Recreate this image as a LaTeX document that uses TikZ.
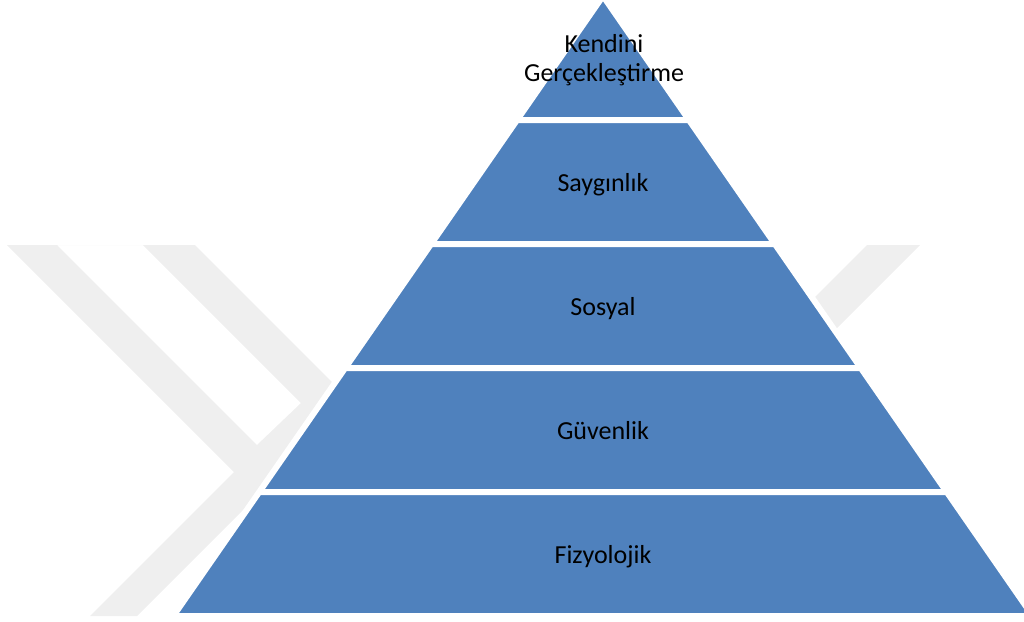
\documentclass[tikz,border=0pt]{standalone}
\usepackage{fontspec}
\setmainfont{Carlito}
\definecolor{pyr}{HTML}{4F81BD}
\definecolor{wm}{HTML}{EFEFEF}
\begin{document}
\begin{tikzpicture}[x=1pt,y=-1pt,
  layer/.style={fill=pyr,draw=white,line width=6pt,line join=round},
  lbl/.style={font=\fontsize{26}{29.3}\selectfont,text=black,align=center,inner sep=0pt},
  wmark/.style={fill=wm,draw=none}]
\useasboundingbox (0,0) rectangle (1024,621);
% watermark (faint Y logo)
\path[wmark,even odd rule]
  (7,245) -- (195,245) -- (351.5,401.5) -- (137,616) -- (90,616) -- (234,472) -- cycle
  (57,245) -- (143,245) -- (301,403) -- (257,445) -- cycle;
\path[wmark] (867,245) -- (920,245) -- (620,545) -- (567,545) -- cycle;
% pyramid layers
\path[layer] (603,-4) -- (688.94,120) -- (517.06,120) -- cycle;
\path[layer] (517.06,120) -- (688.94,120) -- (774.88,244) -- (431.12,244) -- cycle;
\path[layer] (431.12,244) -- (774.88,244) -- (860.82,368) -- (345.18,368) -- cycle;
\path[layer] (345.18,368) -- (860.82,368) -- (946.76,492) -- (259.24,492) -- cycle;
\path[layer] (259.24,492) -- (946.76,492) -- (1032.7,616) -- (173.3,616) -- cycle;
% labels
\node[lbl] (l1) at (604,60) {Kendini\\Gerçekleştirme};
\node[lbl,anchor=base] (l2) at (603,191) {Saygınlık};
\node[lbl,anchor=base] (l3) at (603,315) {Sosyal};
\node[lbl,anchor=base] (l4) at (603,439) {Güvenlik};
\node[lbl,anchor=base] (l5) at (603,563) {Fizyolojik};
\end{tikzpicture}
\end{document}
